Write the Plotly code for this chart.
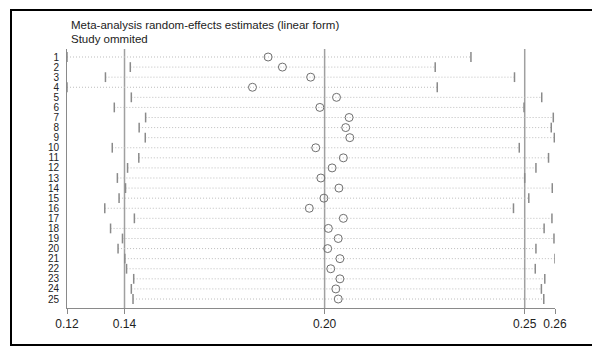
import plotly.graph_objects as go

# Study omitted (row labels)
studies = [str(i) for i in range(1, 26)]

# Estimates with study omitted
estimate = [0.1787, 0.1829, 0.1912, 0.1741, 0.1988, 0.1939, 0.2025, 0.2015, 0.2027, 0.1927,
            0.2008, 0.1975, 0.1942, 0.1995, 0.1951, 0.1908, 0.2008, 0.1964, 0.1993, 0.1962,
            0.1998, 0.1971, 0.1998, 0.1986, 0.1993]
lower = [0.1196, 0.1382, 0.1309, 0.1196, 0.1385, 0.1335, 0.1427, 0.1408, 0.1426, 0.1329,
         0.1407, 0.1374, 0.1344, 0.1368, 0.1349, 0.1307, 0.1394, 0.1324, 0.1359, 0.1346,
         0.1366, 0.1371, 0.1392, 0.1385, 0.1390]
upper = [0.2383, 0.2278, 0.2511, 0.2284, 0.2591, 0.2539, 0.2625, 0.2619, 0.2628, 0.2525,
         0.2611, 0.2574, 0.2541, 0.2622, 0.2553, 0.2508, 0.2621, 0.2598, 0.2627, 0.2574,
         0.2630, 0.2572, 0.2600, 0.2590, 0.2597]

# Overall combined estimate and CI
overall_lower = 0.1365
overall_est = 0.1953
overall_upper = 0.2541

title_lines = ["Meta-analysis random-effects estimates (linear form)", "Study ommited"]

FONT = "Liberation Sans, Arial, sans-serif"
n = len(studies)
ypos = list(range(1, n + 1))

xmin = min(lower)
xmax = max(upper)

fig = go.Figure()

# dotted CI lines
lx, ly = [], []
for lo, hi, y in zip(lower, upper, ypos):
    lx += [lo, hi, None]
    ly += [y, y, None]
fig.add_trace(go.Scatter(x=lx, y=ly, mode="lines",
                         line=dict(color="#bdbdbd", width=1, dash="1px,2px"),
                         hoverinfo="skip", showlegend=False))

# CI end bars
fig.add_trace(go.Scatter(x=lower + upper, y=ypos + ypos, mode="markers",
                         marker=dict(symbol="line-ns", size=7, color="#8a8a8a",
                                     line=dict(color="#8a8a8a", width=1.5)),
                         showlegend=False))

# estimates
fig.add_trace(go.Scatter(x=estimate, y=ypos, mode="markers",
                         marker=dict(symbol="circle-open", size=8, color="#6f6f6f",
                                     line=dict(color="#6f6f6f", width=1)),
                         showlegend=False))

# reference vertical lines
for v in (overall_lower, overall_est, overall_upper):
    fig.add_shape(type="line", x0=v, x1=v, y0=0, y1=1, xref="x", yref="paper",
                  line=dict(color="#a0a0a0", width=1.5), layer="below")

# page body has an 8px margin: lay out in figure pixels = reference pixels - 8
OFF = 8
W, H = 600 - OFF, 351 - OFF
L, T = 67 - OFF, 49 - OFF
R = W - (555 - OFF)
B = H - (308 - OFF)
pw, ph = W - L - R, H - T - B


def px_x(p):
    return (p - OFF - L) / pw


def px_y(p):
    return (H - B - (p - OFF)) / ph


# outer frame
fig.add_shape(type="rect", xref="paper", yref="paper",
              x0=px_x(11), x1=px_x(597), y0=px_y(345), y1=px_y(10),
              line=dict(color="black", width=2))

# title text
fig.add_annotation(text=title_lines[0], xref="paper", yref="paper",
                   x=px_x(69), y=px_y(25), xanchor="left", yanchor="middle",
                   showarrow=False, font=dict(family=FONT, size=11.5, color="#222"))
fig.add_annotation(text=title_lines[1], xref="paper", yref="paper",
                   x=px_x(69), y=px_y(39), xanchor="left", yanchor="middle",
                   showarrow=False, font=dict(family=FONT, size=11.5, color="#222"))

tickvals = [xmin, overall_lower, overall_est, overall_upper, xmax]
ticktext = ["%.2f" % v for v in tickvals]

step = (299 - 57) / (n - 1)
ytop = 1 - (57 - 49) / step
ybot = n + (308 - 299) / step

fig.update_layout(
    width=W, height=H,
    margin=dict(l=L, r=R, t=T, b=B, pad=0),
    paper_bgcolor="white", plot_bgcolor="white",
    font=dict(family=FONT, size=12, color="#222"),
    xaxis=dict(range=[xmin, xmax], tickvals=tickvals, ticktext=ticktext,
               showgrid=False, zeroline=False, showline=True,
               linecolor="#8a8a8a", linewidth=1, ticks="outside", ticklen=5,
               tickcolor="#8a8a8a", tickfont=dict(size=12, color="#222")),
    yaxis=dict(range=[ybot, ytop], tickvals=ypos, ticktext=studies,
               showgrid=False, zeroline=False, showline=True,
               linecolor="#8a8a8a", linewidth=1, ticks="",
               ticklabelstandoff=5, tickfont=dict(size=10, color="#222")),
    showlegend=False,
)

fig.write_html("out.html")
